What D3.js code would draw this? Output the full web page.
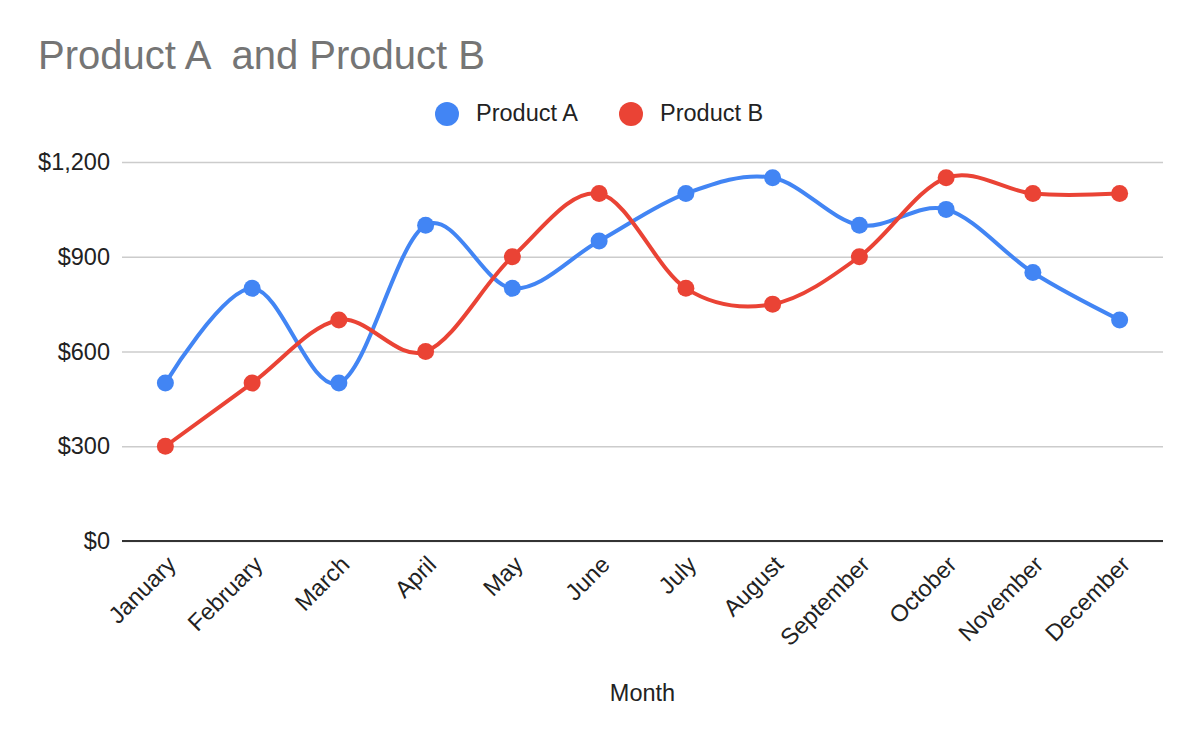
<!DOCTYPE html>
<html>
<head>
<meta charset="utf-8">
<script src="https://cdn.jsdelivr.net/npm/d3@7"></script>
<style>
  body { margin: 0; background: #fff; }
  text { font-family: "Liberation Sans", Arial, sans-serif; }
</style>
</head>
<body>
<div class="chart"></div>
<script>
var months = ['January', 'February', 'March', 'April', 'May', 'June', 'July',
    'August', 'September', 'October', 'November', 'December']
var productA = [500, 800, 500, 1000, 800, 950, 1100, 1150, 1000, 1050, 850, 700]
var productB = [300, 500, 700, 600, 900, 1100, 800, 750, 900, 1150, 1100, 1100]
var yTicks = [0, 300, 600, 900, 1200]

var series = [
    { name: 'Product A', values: productA, color: '#4285F4' },
    { name: 'Product B', values: productB, color: '#EA4335' }
]

var svgWidth = 1200
var svgHeight = 742
var fontSize = 23.5

var svg = d3.select('div.chart')
    .append('svg')
    .attr('width', svgWidth)
    .attr('height', svgHeight)

var x = d3.scaleBand()
    .domain(months)
    .range([122, 1163])

var y = d3.scaleLinear()
    .domain([0, 1200])
    .range([541, 162])

// title (double space kept)
svg.append('text')
    .attr('x', 38)
    .attr('y', 69)
    .style('font-size', '40px')
    .style('fill', '#757575')
    .style('white-space', 'pre')
    .text('Product A  and Product B')

// legend
var legendX = [447, 631]
var legend = svg.append('g')
    .selectAll('g')
    .data(series)
    .enter()
    .append('g')
    .attr('transform', function (d, i) { return 'translate(' + legendX[i] + ',114)' })
legend.append('circle')
    .attr('r', 12)
    .style('fill', function (d) { return d.color })
legend.append('text')
    .attr('x', 29)
    .attr('y', 7)
    .style('font-size', fontSize + 'px')
    .style('fill', '#222')
    .text(function (d) { return d.name })

// gridlines and y labels
var y_axis = d3.axisLeft(y)
    .tickValues(yTicks)
    .tickSize(-(1163 - 122))
    .tickPadding(12)
    .tickFormat(function (d) { return '$' + d3.format(',')(d) })

var yg = svg.append('g')
    .attr('transform', 'translate(122,0)')
    .call(y_axis)
yg.select('.domain').remove()
yg.selectAll('.tick line')
    .style('stroke', '#cccccc')
    .style('stroke-width', 1.5)
yg.selectAll('.tick text')
    .style('font-size', fontSize + 'px')
    .style('fill', '#222')
    .attr('font-family', null)

// baseline
svg.append('line')
    .attr('x1', 122)
    .attr('x2', 1163)
    .attr('y1', y(0))
    .attr('y2', y(0))
    .style('stroke', '#333')
    .style('stroke-width', 2)

// x labels
var x_axis = d3.axisBottom(x).tickSize(0)
var xg = svg.append('g')
    .attr('transform', 'translate(0,' + y(0) + ')')
    .call(x_axis)
xg.select('.domain').remove()
xg.selectAll('.tick text')
    .attr('y', 0)
    .attr('dy', 0)
    .attr('transform', 'translate(12,25) rotate(-45)')
    .style('text-anchor', 'end')
    .style('font-size', fontSize + 'px')
    .style('fill', '#222')
    .attr('font-family', null)

svg.append('text')
    .attr('x', (122 + 1163) / 2)
    .attr('y', 701)
    .style('text-anchor', 'middle')
    .style('font-size', fontSize + 'px')
    .style('fill', '#222')
    .text('Month')

// lines
var line = d3.line()
    .x(function (d, i) { return x(months[i]) + x.bandwidth() / 2 })
    .y(function (d) { return y(d) })
    .curve(d3.curveCardinal.tension(0))

var groups = svg.append('g')
    .selectAll('g')
    .data(series)
    .enter()
    .append('g')

groups.append('path')
    .attr('d', function (d) { return line(d.values) })
    .style('fill', 'none')
    .style('stroke', function (d) { return d.color })
    .style('stroke-width', 4)

groups.selectAll('circle')
    .data(function (d) { return d.values.map(function (v) { return { v: v, color: d.color } }) })
    .enter()
    .append('circle')
    .attr('cx', function (d, i) { return x(months[i]) + x.bandwidth() / 2 })
    .attr('cy', function (d) { return y(d.v) })
    .attr('r', 8.5)
    .style('fill', function (d) { return d.color })
</script>
</body>
</html>
